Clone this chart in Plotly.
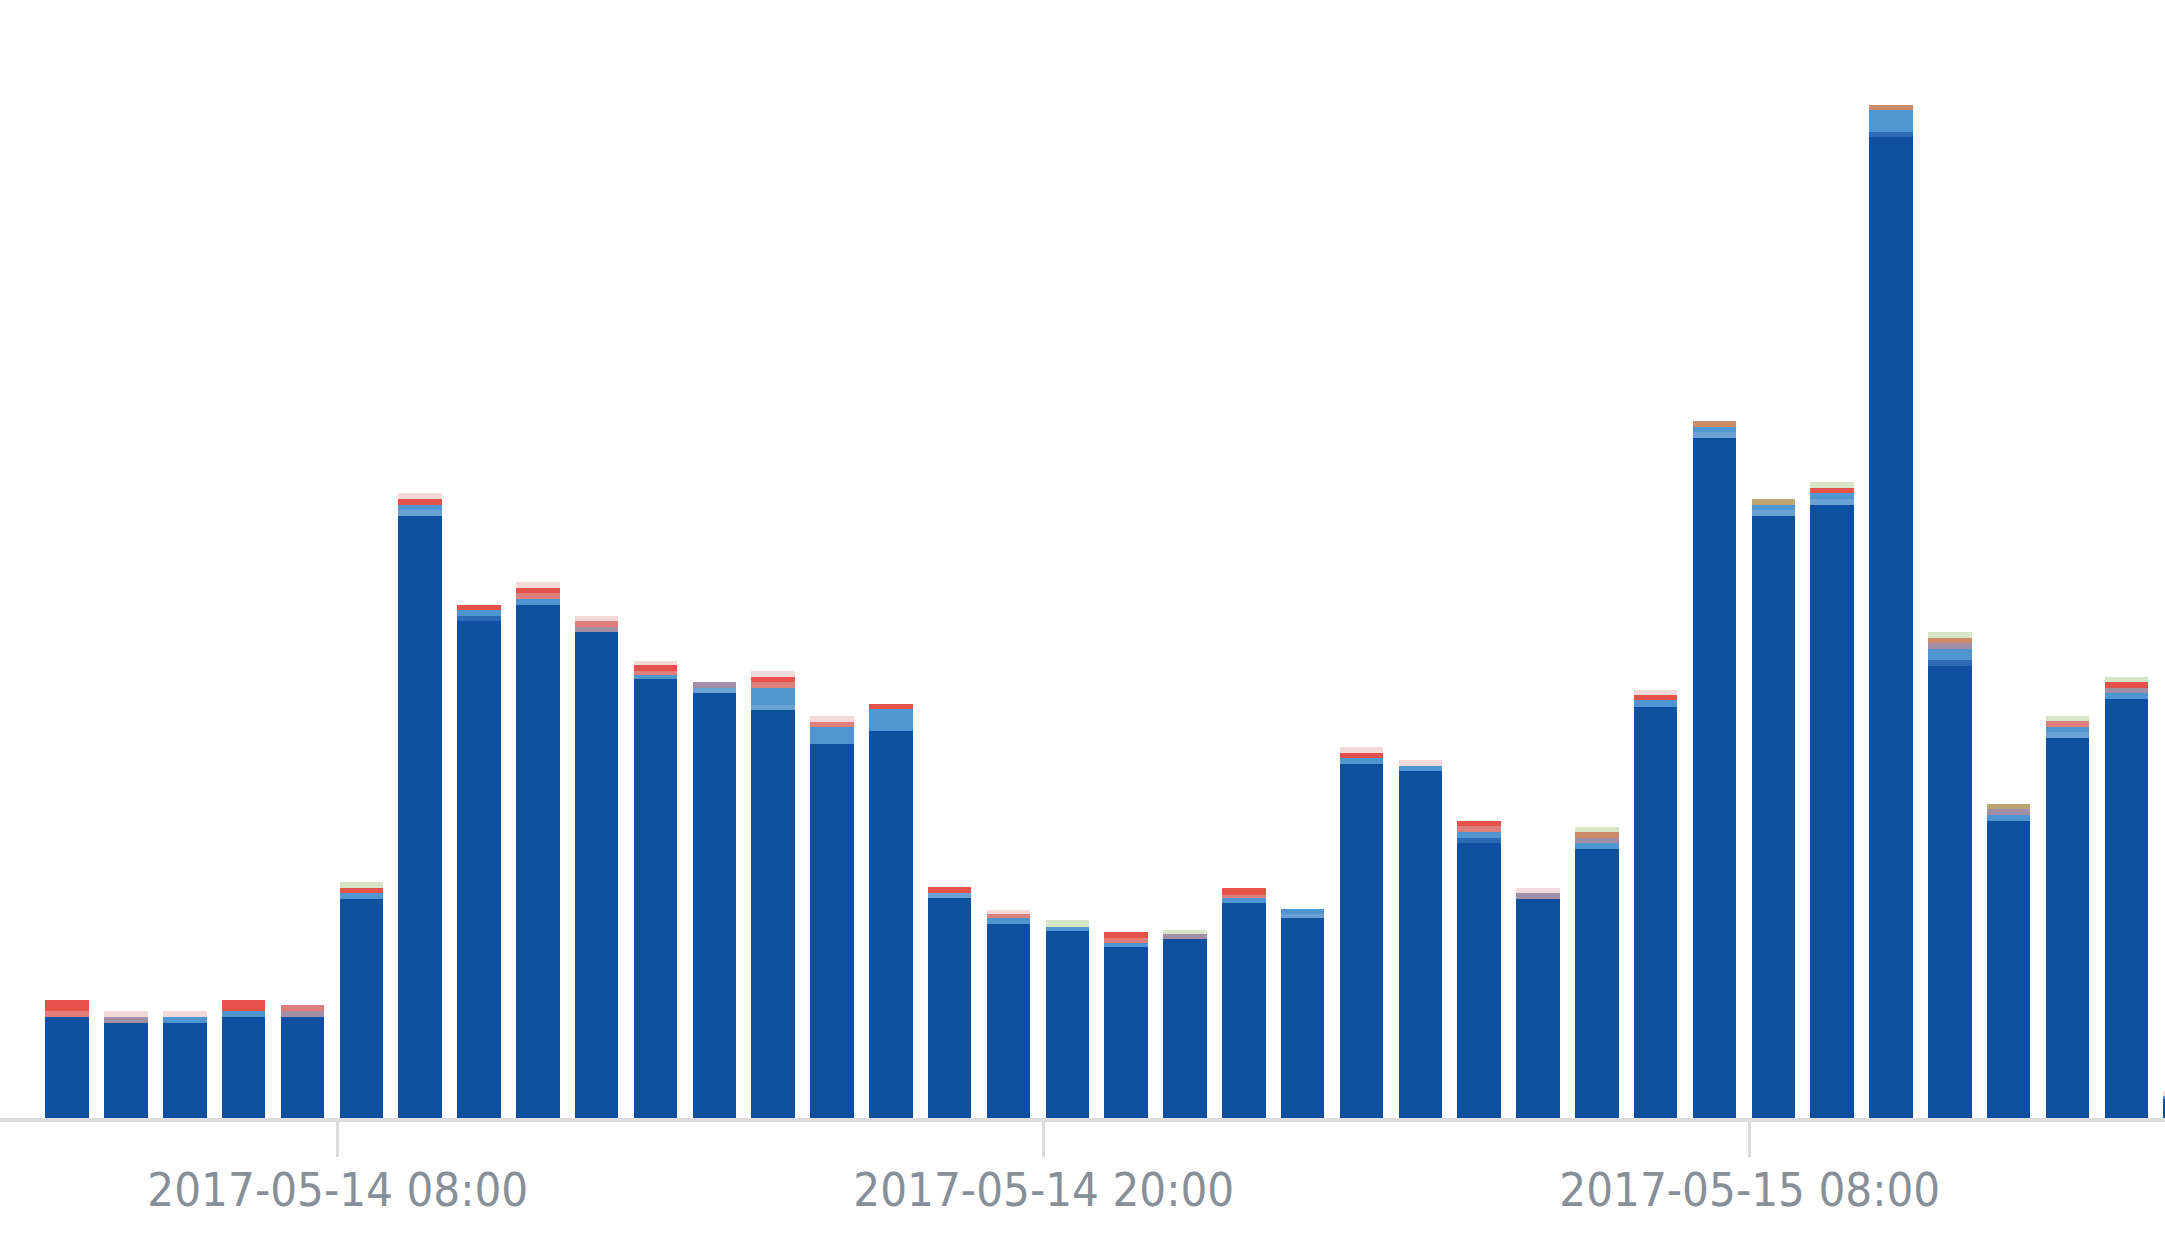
import plotly.graph_objects as go
import pandas as pd

# hourly buckets, 2017-05-14 03:00 .. 2017-05-15 15:00
times = pd.date_range("2017-05-14 03:00", periods=37, freq="h")

# stacked series (bottom -> top)
base    = [73.4, 69, 69, 73.4, 73.4, 158.8, 436, 360.1, 371.7, 352.1, 318, 308, 295.7, 271, 280.5, 159.5,
           140.5, 135.5, 123.5, 129.5, 155.5, 144.5, 256.5, 251.5, 199.3, 158.8, 195, 297.5, 492.6, 436.1,
           444.1, 710.5, 327.5, 215.3, 275.4, 303.6, 14]
mid     = [0, 0, 0, 0, 0, 0, 0, 3.6, 0, 0, 0, 0, 0, 0, 0, 0,
           0, 0, 0, 0, 0, 0, 0, 0, 3.7, 0, 0, 0, 0, 0,
           0, 3.5, 4.4, 0, 0, 0, 0]
lighter = [0, 0, 0, 0, 0, 0, 4.4, 0, 0, 0, 0, 3.6, 3.6, 0, 0, 3.5,
           0, 0, 0, 0, 0, 3.0, 0, 0, 0, 0, 0, 0, 4.4, 4.4,
           4.4, 0, 0, 0, 4.3, 0, 0]
light   = [0, 0, 4.4, 3.9, 0, 4.4, 3.6, 4.4, 4.3, 0, 3, 0, 12.3, 12, 15.5, 0,
           4, 3, 3, 0, 4, 3.5, 4, 3.5, 4.3, 0, 4.3, 5, 3.6, 3.6,
           4.3, 16.1, 7.9, 4.4, 3.6, 4.4, 2]
purple  = [0, 4.4, 0, 0, 3.9, 0, 0, 0, 0, 3.7, 0, 4.3, 0, 0, 0, 0,
           0, 0, 0, 4, 0, 0, 0, 0, 0, 4.4, 3.7, 0, 0, 0,
           0, 0, 4.4, 4.3, 0, 3.6, 0]
salmon  = [3.9, 0, 0, 0, 4.7, 0, 0, 0, 4.4, 4.3, 3, 0, 4.3, 4, 0, 0,
           3, 0, 4, 0, 2, 0, 0, 0, 4.4, 0, 0, 0, 0, 0,
           0, 0, 0, 0, 4.4, 0, 0]
red     = [8.5, 0, 0, 8.5, 0, 3.6, 4.4, 3.6, 3.6, 0, 4, 0, 3.7, 0, 3.6, 4,
           0, 0, 4, 0, 5, 0, 4, 0, 3.6, 0, 0, 3.5, 0, 0,
           3.6, 0, 0, 0, 0, 4.3, 0]
orange  = [0, 0, 0, 0, 0, 0, 0, 0, 0, 0, 0, 0, 0, 0, 0, 0,
           0, 0, 0, 0, 0, 0, 0, 0, 0, 0, 4.3, 0, 4.3, 0,
           0, 3.6, 3.6, 0, 0, 0, 0]
tan     = [0, 0, 0, 0, 0, 0, 0, 0, 0, 0, 0, 0, 0, 0, 0, 0,
           0, 0, 0, 0, 0, 0, 0, 0, 0, 0, 0, 0, 0, 4.4,
           0, 0, 0, 3.7, 0, 0, 0]
pink    = [0, 3.9, 3.9, 0, 0, 0, 4.3, 0, 4.3, 3.6, 3, 0, 4.3, 4, 0, 0,
           3, 0, 0, 0, 0, 0, 4, 4, 0, 3.6, 0, 4, 0, 0,
           0, 0, 0, 0, 0, 0, 3.5]
green   = [0, 0, 0, 0, 0, 4.3, 0, 0, 0, 0, 0, 0, 0, 0, 0, 0,
           0, 5, 0, 3, 0, 0, 0, 0, 0, 0, 3.6, 0, 0, 0,
           4.4, 0, 4.3, 0, 3.6, 3.6, 0]

series = [
    ("base", base, "#0d50a0"),
    ("mid", mid, "#2b6bb3"),
    ("lighter", lighter, "#6aa2d5"),
    ("light", light, "#4f95d0"),
    ("purple", purple, "#a08fa6"),
    ("salmon", salmon, "#df7f7b"),
    ("red", red, "#e4524a"),
    ("orange", orange, "#cc8b69"),
    ("tan", tan, "#bba572"),
    ("pink", pink, "#f3dada"),
    ("green", green, "#d6e6c7"),
]

tick_vals = ["2017-05-14 08:00", "2017-05-14 20:00", "2017-05-15 08:00"]
tick_text = ["2017-05-14 08:00", "2017-05-14 20:00", "2017-05-15 08:00"]

HOUR = 3600 * 1000
fig = go.Figure()
for name, vals, col in series:
    fig.add_trace(go.Bar(
        x=times, y=vals, name=name,
        marker=dict(color=col, line=dict(width=0)),
        width=0.74 * HOUR, offset=0.03 * HOUR,
    ))

fig.update_layout(
    barmode="stack",
    width=2165, height=1250,
    margin=dict(l=0, r=0, t=0, b=132),
    paper_bgcolor="white", plot_bgcolor="white",
    showlegend=False,
    bargap=0,
)
fig.update_xaxes(
    type="date",
    range=["2017-05-14 02:15:30", "2017-05-15 15:03:30"],
    tickvals=tick_vals, ticktext=tick_text,
    ticks="outside", ticklen=35, tickwidth=3, tickcolor="#dcdcdc",
    showline=True, linecolor="#dedede", linewidth=4,
    showgrid=False, zeroline=False,
    ticklabelstandoff=-7,
    tickfont=dict(family="Liberation Sans Narrow, DejaVu Sans Condensed, Arial Narrow, sans-serif",
                  size=47, color="#878f99"),
)
fig.update_yaxes(range=[0, 809.6], visible=False, showgrid=False, zeroline=False)

fig.write_html("out.html", config={"displayModeBar": False},
               post_script="document.body.style.margin='0';")
